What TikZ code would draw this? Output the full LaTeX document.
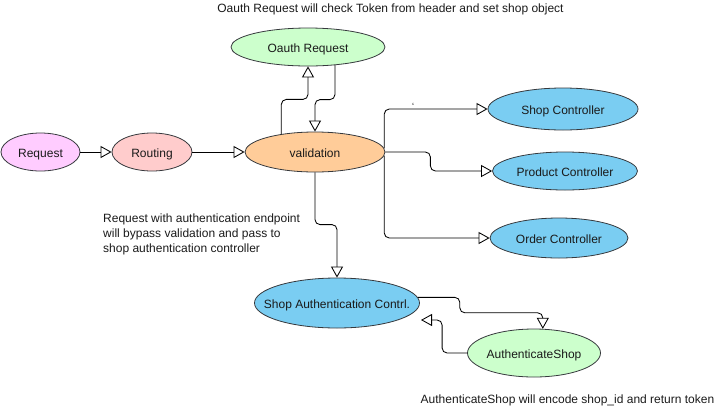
\documentclass[tikz,border=0pt]{standalone}
\usepackage{fontspec}
\setmainfont{Liberation Sans}
\usetikzlibrary{arrows.meta,shapes.geometric,calc}
\definecolor{reqc}{HTML}{FFCCFF}
\definecolor{routc}{HTML}{FFCCCC}
\definecolor{valc}{HTML}{FFCC99}
\definecolor{greenc}{HTML}{CCFFCC}
\definecolor{bluec}{HTML}{7ACDF2}
\definecolor{linec}{HTML}{36393D}
\definecolor{txtc}{HTML}{1A1A1A}
\newcommand{\zb}[1]{\makebox[0pt]{\raisebox{-5pt}[0pt][0pt]{#1}}}
\begin{document}
\begin{tikzpicture}[x=1pt,y=-1pt,
  el/.style={ellipse, draw=linec, line width=0.8pt, inner sep=0pt,
    font=\fontsize{12}{14}\selectfont, text=txtc},
  flow/.style={draw=black, line width=0.85pt, rounded corners=5pt,
    -{Triangle[open, length=11pt, width=12pt, line width=0.85pt]}},
  note/.style={font=\fontsize{12}{14}\selectfont, text=txtc, inner sep=0pt}]
\useasboundingbox (0,0) rectangle (724,408);

\node[el, fill=reqc, minimum width=79pt, minimum height=38pt] (req) at (40.5,152) {\zb{Request}};
\node[el, fill=routc, minimum width=80pt, minimum height=38pt] (rout) at (152,152) {\zb{Routing}};
\node[el, fill=valc, minimum width=140pt, minimum height=40pt] (val) at (315,152) {\zb{validation}};
\node[el, fill=greenc, minimum width=154pt, minimum height=38pt] (oauth) at (308,47) {\zb{Oauth Request}};
\node[el, fill=bluec, minimum width=150pt, minimum height=42pt] (shopc) at (563,109) {\zb{Shop Controller}};
\node[el, fill=bluec, minimum width=145pt, minimum height=38pt] (prodc) at (565,171) {\zb{Product Controller}};
\node[el, fill=bluec, minimum width=138pt, minimum height=40pt] (orderc) at (559,238) {\zb{Order Controller}};
\node[el, fill=bluec, minimum width=165pt, minimum height=50pt] (sac) at (337,303) {\zb{Shop Authentication Contrl.}};
\node[el, fill=greenc, minimum width=133pt, minimum height=48pt] (as) at (534,353) {\zb{AuthenticateShop}};

\coordinate (sacin) at (421,320);

\draw[flow] (req.east) -- (rout.west);
\draw[flow] (rout.east) -- (val.west);
\draw[flow] (val.152) |- ($(oauth.south)+(0,33)$) -- (oauth.south);
\draw[flow] (oauth.-34) |- ($(val.north)+(0,-32)$) -- (val.north);
\draw[flow] (val.3) |- (shopc.west);
\draw[flow] (val.east) -- ++(45,0) |- (prodc.west);
\draw[flow] (val.-3) |- (orderc.west);
\draw[flow] (val.south) |- ($(sac.north)+(0,-53)$) -- (sac.north);
\draw[flow] (sac.4) -- ($(sac.4)+(42,0)$) |- ($(as.70)+(0,-16)$) -- (as.70);
\draw[flow] (as.west) -- ($(as.west)+(-25,0)$) |- (sacin);

\node[font=\fontsize{9}{10}\selectfont] (tick) at (413,106) {`};

\node[note, anchor=north] (t1) at (390.5,4) {Oauth Request will check Token from header and set shop object};
\node[note, anchor=north west, align=left, font=\fontsize{12}{15}\selectfont] (t2) at (103,214)
  {Request with authentication endpoint\\will bypass validation and pass to\\shop authentication controller};
\node[note, anchor=north] (t3) at (567.5,395) {AuthenticateShop will encode shop\_id and return token};
\end{tikzpicture}
\end{document}
